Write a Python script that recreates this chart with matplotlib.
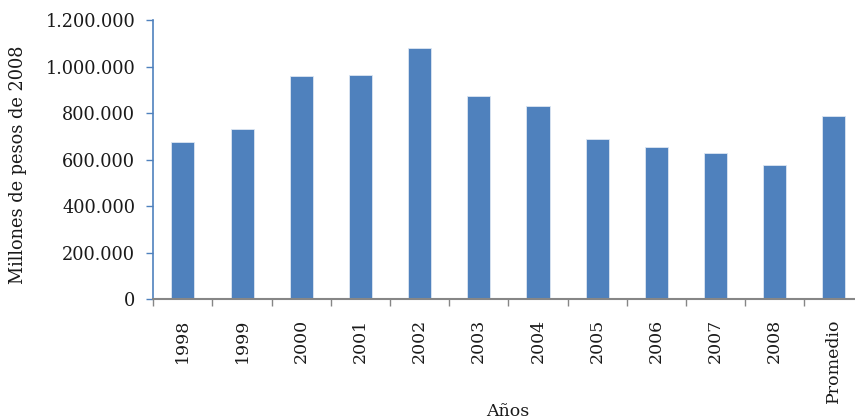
import matplotlib
matplotlib.use("Agg")
import matplotlib.pyplot as plt
from matplotlib.ticker import FuncFormatter, FixedLocator

# Data
categories = ["1998", "1999", "2000", "2001", "2002", "2003", "2004",
              "2005", "2006", "2007", "2008", "Promedio"]
values = [675000, 730000, 960000, 962000, 1078000, 875000, 830000,
          688000, 653000, 629000, 578000, 786000]

plt.rcParams["font.family"] = ["DejaVu Serif"]
text_color = "#1a1a1a"

fig = plt.figure(figsize=(8.55, 4.2), dpi=100)
# axes run a bit past the right edge, as in the cropped original
ax = fig.add_axes([153.3 / 855, 1 - 299.3 / 420, 710.2 / 855, 279.3 / 420])

x = list(range(len(categories)))
ax.bar(x, values, width=0.39, color="#4F81BD", edgecolor="#DCE6F2", linewidth=0.6)

ax.set_xlim(-0.5, len(categories) - 0.5)
ax.set_ylim(0, 1200000)

# y axis
ax.set_yticks(range(0, 1200001, 200000))
ax.yaxis.set_major_formatter(FuncFormatter(lambda v, p: f"{int(v):,}".replace(",", ".")))
ax.tick_params(axis="y", direction="out", length=5, width=1, color="#4F81BD",
               pad=8, labelsize=12.8, labelcolor=text_color)

# x axis: tick marks between categories, labels at centres
ax.xaxis.set_major_locator(FixedLocator([i - 0.5 for i in range(len(categories) + 1)]))
ax.xaxis.set_major_formatter(FuncFormatter(lambda v, p: ""))
ax.xaxis.set_minor_locator(FixedLocator(x))
ax.set_xticklabels(categories, minor=True, rotation=90, va="top", ha="center")
ax.tick_params(axis="x", which="major", direction="out", length=5, width=1, color="#868686")
ax.tick_params(axis="x", which="minor", length=0, pad=14, labelsize=12.5, labelcolor=text_color)

for side in ["top", "right"]:
    ax.spines[side].set_visible(False)
ax.spines["left"].set_color("#4F81BD")
ax.spines["left"].set_linewidth(1.2)
ax.spines["bottom"].set_color("#868686")
ax.spines["bottom"].set_linewidth(1.5)

fig.text(18 / 855, 1 - 165 / 420, "Millones de pesos de 2008", rotation=90,
         ha="center", va="center", fontsize=12.8, color=text_color)
fig.text(508 / 855, 1 - 411 / 420, "Años", ha="center", va="center",
         fontsize=12.5, color=text_color)

fig.savefig("out.png", dpi=100)
